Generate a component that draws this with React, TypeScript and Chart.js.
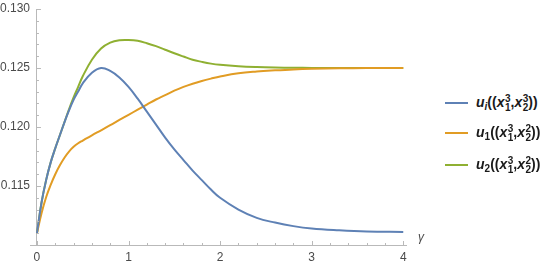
import React, { useEffect, useRef } from "react";
import { Chart, registerables } from "chart.js";

Chart.register(...registerables);

const gamma = [0, 0.05, 0.1, 0.15, 0.2, 0.25, 0.3, 0.35, 0.4, 0.45, 0.5, 0.6, 0.7, 0.8, 0.9, 1.0, 1.1, 1.2, 1.3, 1.4, 1.5, 1.6, 1.7, 1.8, 1.9, 2.0, 2.2, 2.4, 2.6, 2.8, 3.0, 3.3, 3.6, 4.0];
const uiValues = [0.1110, 0.1136, 0.1155, 0.1170, 0.1182, 0.1193, 0.1204, 0.1214, 0.1223, 0.1230, 0.1237, 0.1246, 0.1250, 0.12475, 0.1242, 0.1234, 0.1224, 0.1213, 0.1202, 0.1191, 0.1181, 0.1172, 0.1163, 0.1155, 0.1147, 0.1140, 0.1130, 0.1123, 0.1119, 0.1116, 0.1114, 0.11125, 0.11115, 0.1111];
const u1Values = [0.1110, 0.1127, 0.11405, 0.1151, 0.1160, 0.11675, 0.1174, 0.11792, 0.11832, 0.11862, 0.11885, 0.1193, 0.11972, 0.12015, 0.1206, 0.12103, 0.12147, 0.1219, 0.12233, 0.1227, 0.12308, 0.1234, 0.12367, 0.1239, 0.1241, 0.12428, 0.12455, 0.1247, 0.1248, 0.12488, 0.12493, 0.12497, 0.12499, 0.1250];
const u2Values = [0.1110, 0.1136, 0.1155, 0.1170, 0.1182, 0.1193, 0.1204, 0.1215, 0.1225, 0.1234, 0.1243, 0.1257, 0.12665, 0.12715, 0.12735, 0.12737, 0.1273, 0.1271, 0.12685, 0.12655, 0.12625, 0.12597, 0.1257, 0.12552, 0.12537, 0.12527, 0.12515, 0.12508, 0.12504, 0.12502, 0.12501, 0.1250, 0.1250, 0.1250];
const xTickValues = [0, 1, 2, 3, 4];
const yTickValues = [0.115, 0.12, 0.125, 0.13];

const BLUE = "#5E81B5";
const ORANGE = "#E19C24";
const GREEN = "#8FB032";
const AXIS = "#b9b9b9";
const LABEL = "#4a4a4a";
const FONT = "'Liberation Sans', Arial, sans-serif";

const minorTicks = {
  id: "minorTicks",
  afterDraw(chart: any) {
    const { ctx, scales } = chart;
    const xs = scales.x;
    const ys = scales.y;
    const x0 = xs.getPixelForValue(0);
    const yb = chart.chartArea.bottom;
    ctx.save();
    ctx.strokeStyle = AXIS;
    ctx.lineWidth = 1;
    ctx.beginPath();
    for (let i = 0; i <= 20; i++) {
      const v = 0.11 + i * 0.001;
      const py = Math.round(ys.getPixelForValue(v)) + 0.5;
      const len = i % 5 === 0 ? 4 : 2;
      ctx.moveTo(x0, py);
      ctx.lineTo(x0 + len, py);
    }
    for (let i = 0; i <= 20; i++) {
      const v = i * 0.2;
      const px = Math.round(xs.getPixelForValue(v)) + 0.5;
      const len = i % 5 === 0 ? 4 : 2;
      ctx.moveTo(px, yb);
      ctx.lineTo(px, yb - len);
    }
    ctx.stroke();
    ctx.restore();
  },
};

function Label({ sub, sup2 }: { sub: string; sup2: string }) {
  const ss = (a: string, b: string) => (
    <span style={{ display: "inline-flex", flexDirection: "column", verticalAlign: "middle", fontSize: 10, lineHeight: "9px", fontStyle: "normal", marginLeft: 0.5 }}>
      <span>{a}</span>
      <span>{b}</span>
    </span>
  );
  return (
    <span style={{ fontFamily: FONT, fontWeight: "bold", fontSize: 14, color: "#1a1a1a", whiteSpace: "nowrap" }}>
      <i>u</i>
      <sub style={{ fontSize: 10, verticalAlign: "-3px", fontStyle: sub === "i" ? "italic" : "normal" }}>{sub}</sub>
      ((<i>x</i>
      {ss("3", "1")},<i>x</i>
      {ss(sup2, "2")}))
    </span>
  );
}

export default function App() {
  const ref = useRef<HTMLCanvasElement>(null);
  useEffect(() => {
    const mk = (vals: number[]) => gamma.map((g, i) => ({ x: g, y: vals[i] }));
    const ds = (vals: number[], color: string) => ({
      data: mk(vals),
      borderColor: color,
      backgroundColor: color,
      borderWidth: 2,
      pointRadius: 0,
      tension: 0.4,
      fill: false,
    });
    const chart = new Chart(ref.current!, {
      type: "line",
      data: { datasets: [ds(uiValues, BLUE), ds(u1Values, ORANGE), ds(u2Values, GREEN)] },
      plugins: [minorTicks],
      options: {
        animation: false,
        responsive: false,
        maintainAspectRatio: false,
        layout: { padding: { left: 0, right: 14, top: 9, bottom: 0 } },
        plugins: { legend: { display: false }, tooltip: { enabled: false } },
        scales: {
          x: {
            type: "linear",
            min: -0.076,
            max: 4.03,
            afterBuildTicks: (s: any) => {
              s.ticks = xTickValues.map((v) => ({ value: v }));
            },
            afterFit: (s: any) => {
              s.height = 21;
            },
            border: { display: true, color: AXIS, width: 1 },
            grid: {
              drawTicks: false,
              color: (c: any) => (c.tick && c.tick.value === 0 ? AXIS : "rgba(0,0,0,0)"),
              lineWidth: 1,
            },
            ticks: {
              padding: 5,
              color: LABEL,
              font: { family: FONT, size: 12 },
              callback: (v: any) => String(v),
            },
          },
          y: {
            type: "linear",
            position: "left",
            min: 0.11,
            max: 0.13,
            afterBuildTicks: (s: any) => {
              s.ticks = yTickValues.map((v) => ({ value: v }));
            },
            afterFit: (s: any) => {
              s.width = 30;
            },
            border: { display: false },
            grid: { display: false, drawTicks: false },
            ticks: {
              padding: 0,
              color: LABEL,
              font: { family: FONT, size: 12 },
              callback: (v: any) => Number(v).toFixed(3),
            },
          },
        },
      },
    });
    return () => chart.destroy();
  }, []);

  const entries = [
    { color: BLUE, sub: "i", sup2: "3", top: 103 },
    { color: ORANGE, sub: "1", sup2: "2", top: 133 },
    { color: GREEN, sub: "2", sup2: "2", top: 165 },
  ];

  return (
    <div style={{ position: "fixed", left: 0, top: 0, width: 550, height: 266, background: "#fff" }}>
      <canvas ref={ref} width={420} height={266} style={{ position: "absolute", left: 0, top: 0 }} />
      <span style={{ position: "absolute", left: 418, top: 230, fontFamily: FONT, fontStyle: "italic", fontSize: 12, color: LABEL }}>γ</span>
      {entries.map((e, i) => (
        <div key={i} style={{ position: "absolute", left: 445, top: e.top - 12, height: 24, display: "flex", alignItems: "center" }}>
          <span style={{ display: "inline-block", width: 23, height: 2, background: e.color, marginRight: 8 }} />
          <Label sub={e.sub} sup2={e.sup2} />
        </div>
      ))}
    </div>
  );
}
